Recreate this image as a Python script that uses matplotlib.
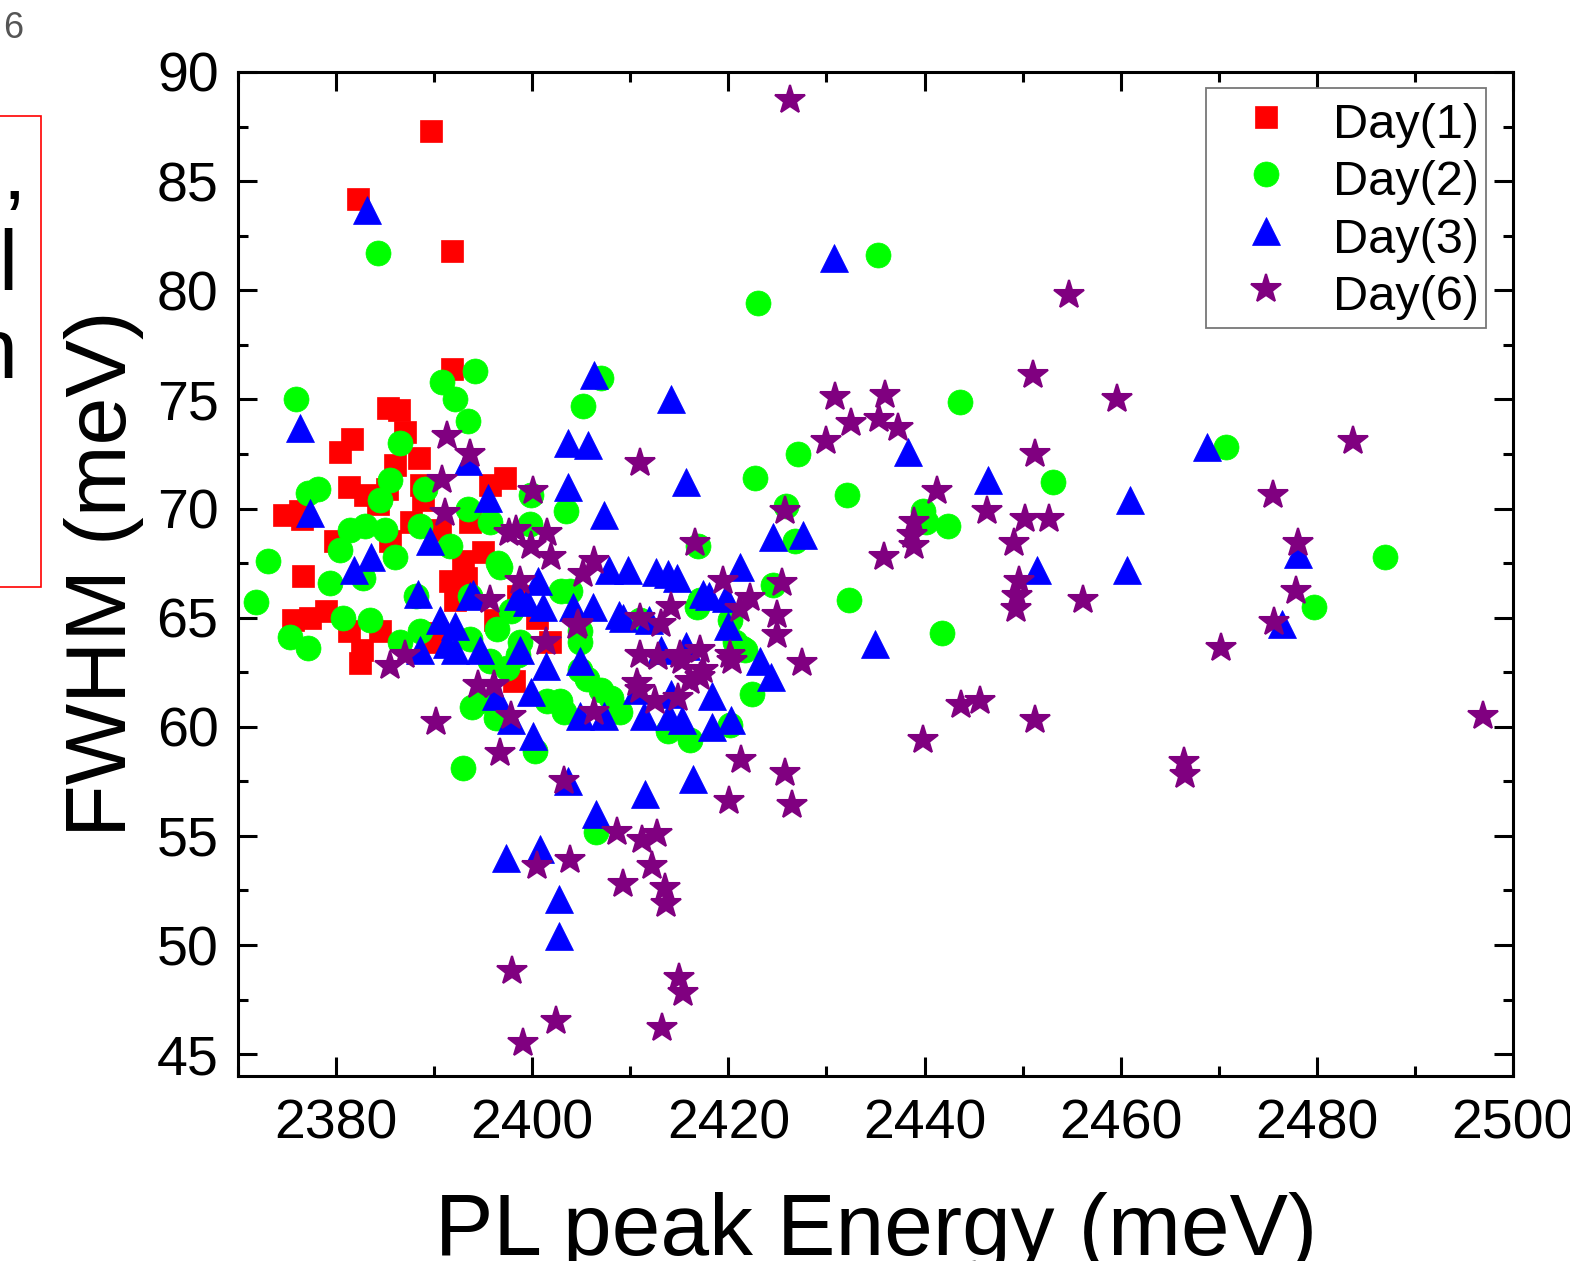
import matplotlib
matplotlib.use("Agg")
import matplotlib.pyplot as plt
from matplotlib.ticker import MultipleLocator
from matplotlib.patches import Rectangle

plt.rcParams['font.family'] = ['Liberation Sans', 'DejaVu Sans']

# (PL peak energy meV, FWHM meV)
day1 = [(2389.7, 87.3), (2382.2, 84.2), (2391.8, 81.8), (2391.8, 76.4), (2385.3, 74.6),
        (2386.4, 74.5), (2387.0, 73.5), (2381.6, 73.2), (2380.4, 72.6), (2388.5, 72.3),
        (2386.0, 72.0), (2381.3, 71.0), (2383.0, 70.6), (2385.2, 70.9), (2384.3, 70.2),
        (2388.7, 71.1), (2388.9, 70.4), (2397.2, 71.4), (2395.7, 71.1), (2374.7, 69.7),
        (2376.5, 69.5), (2376.3, 69.9), (2379.9, 68.5), (2385.5, 68.5), (2387.6, 69.4),
        (2390.6, 69.0), (2393.7, 69.4), (2376.6, 66.9), (2392.9, 67.6), (2393.2, 66.8),
        (2391.6, 66.7), (2392.1, 65.8), (2377.3, 65.0), (2375.6, 64.9), (2381.3, 64.4),
        (2382.6, 63.5), (2382.4, 62.9), (2384.5, 64.4), (2389.6, 63.9), (2390.3, 64.3),
        (2396.2, 64.9), (2398.1, 62.1), (2401.8, 63.9), (2379.0, 65.3), (2395.0, 68.0),
        (2398.5, 66.0), (2400.5, 65.0)]

day2 = [(2384.3, 81.7), (2423.0, 79.4), (2435.3, 81.6), (2375.9, 75.0), (2390.8, 75.8),
        (2394.2, 76.3), (2392.1, 75.0), (2393.4, 74.0), (2405.2, 74.7), (2407.0, 76.0),
        (2443.6, 74.9), (2427.1, 72.5), (2422.7, 71.4), (2432.1, 70.6), (2425.9, 70.1),
        (2453.1, 71.2), (2470.7, 72.8), (2439.8, 69.9), (2440.1, 69.4), (2442.4, 69.2),
        (2426.8, 68.5), (2373.1, 67.6), (2487.0, 67.8), (2479.7, 65.5), (2424.5, 66.5),
        (2432.3, 65.8), (2441.8, 64.3), (2422.4, 61.5), (2371.8, 65.7), (2375.3, 64.1),
        (2377.1, 63.6), (2378.2, 70.9), (2377.1, 70.7), (2380.4, 68.1), (2379.4, 66.6),
        (2380.7, 65.0), (2384.5, 70.4), (2385.5, 71.3), (2386.5, 73.0), (2389.1, 70.9),
        (2392.9, 58.1), (2400.3, 58.9), (2406.5, 55.2), (2403.4, 69.9), (2399.9, 70.6),
        (2393.7, 64.0), (2395.7, 63.0), (2394.7, 61.2), (2396.3, 60.4), (2401.5, 61.2),
        (2404.9, 62.6), (2407.0, 61.7), (2409.0, 60.7), (2413.8, 59.8), (2416.1, 59.4),
        (2417.1, 65.8), (2420.7, 63.9), (2421.7, 63.5), (2416.9, 68.3), (2411.0, 64.9),
        (2402.9, 66.2), (2393.7, 66.0), (2382.7, 66.8), (2386.0, 67.8), (2381.4, 69.0),
        (2383.0, 69.2), (2385.0, 69.0), (2388.6, 69.2), (2391.6, 68.3), (2395.7, 69.4),
        (2396.7, 67.3), (2388.1, 66.0), (2383.5, 64.9), (2388.6, 64.4), (2386.5, 63.9),
        (2397.8, 65.3), (2398.8, 63.9), (2402.8, 61.2), (2404.9, 63.9), (2416.8, 65.5),
        (2420.2, 64.9), (2421.4, 63.6), (2420.2, 60.1), (2396.5, 67.5), (2393.4, 70.0),
        (2399.8, 69.3), (2403.9, 66.2), (2396.4, 64.5), (2404.9, 64.4), (2393.9, 60.9),
        (2403.2, 60.7), (2405.6, 62.2), (2408.0, 61.3), (2398.5, 63.3), (2397.4, 62.7)]

day3 = [(2383.2, 83.7), (2430.8, 81.5), (2376.3, 73.7), (2406.3, 76.1), (2414.1, 75.0),
        (2393.5, 72.2), (2403.6, 73.0), (2405.7, 72.9), (2403.6, 71.0), (2415.7, 71.2),
        (2438.3, 72.6), (2446.5, 71.3), (2468.8, 72.8), (2460.9, 70.4), (2395.5, 70.5),
        (2377.3, 69.8), (2389.6, 68.5), (2407.3, 69.7), (2424.6, 68.7), (2427.6, 68.8),
        (2383.6, 67.8), (2381.8, 67.2), (2393.7, 66.0), (2407.8, 67.2), (2409.8, 67.2),
        (2412.6, 67.1), (2413.8, 67.0), (2414.8, 66.8), (2421.2, 67.3), (2451.5, 67.2),
        (2460.6, 67.2), (2478.1, 67.9), (2476.4, 64.7), (2434.9, 63.8), (2400.6, 66.7),
        (2398.6, 66.0), (2404.2, 65.5), (2406.2, 65.5), (2408.8, 65.1), (2411.9, 64.9),
        (2418.0, 66.0), (2419.8, 65.9), (2420.0, 64.6), (2390.6, 64.9), (2392.1, 64.6),
        (2388.6, 63.5), (2392.1, 63.5), (2394.7, 63.5), (2398.8, 63.5), (2401.4, 62.8),
        (2404.9, 63.0), (2413.1, 63.5), (2415.7, 63.7), (2423.2, 63.0), (2424.3, 62.3),
        (2396.3, 61.4), (2399.9, 61.6), (2404.9, 60.5), (2407.3, 60.5), (2411.4, 60.5),
        (2413.9, 60.5), (2415.3, 60.3), (2418.3, 60.0), (2420.3, 60.3), (2418.3, 61.4),
        (2397.8, 60.3), (2400.1, 59.6), (2403.6, 57.5), (2416.4, 57.6), (2411.5, 56.9),
        (2406.5, 56.0), (2397.3, 54.0), (2400.8, 54.4), (2402.7, 52.1), (2402.7, 50.4),
        (2388.4, 66.1), (2417.4, 66.1), (2394.0, 66.1), (2399.5, 65.7), (2401.1, 65.5),
        (2391.3, 63.8), (2409.3, 65.0), (2414.1, 61.5), (2410.7, 61.7)]

day6 = [(2426.3, 88.7), (2454.7, 79.8), (2430.9, 75.1), (2436.0, 75.2), (2432.5, 73.9),
        (2435.4, 74.1), (2437.3, 73.7), (2430.0, 73.1), (2451.1, 76.1), (2459.6, 75.0),
        (2483.7, 73.1), (2451.3, 72.5), (2411.0, 72.1), (2391.3, 73.3), (2393.7, 72.5),
        (2390.8, 71.3), (2441.3, 70.8), (2475.5, 70.6), (2400.1, 70.8), (2425.8, 69.9),
        (2446.4, 69.9), (2450.2, 69.5), (2452.7, 69.5), (2449.1, 68.4), (2438.9, 69.4),
        (2438.7, 68.8), (2438.9, 68.3), (2435.9, 67.8), (2416.6, 68.4), (2478.1, 68.4),
        (2406.3, 67.6), (2419.5, 66.7), (2425.5, 66.6), (2449.6, 66.7), (2449.4, 66.0),
        (2449.3, 65.4), (2456.2, 65.8), (2477.9, 66.2), (2475.6, 64.8), (2425.0, 65.1),
        (2425.0, 64.2), (2421.2, 65.4), (2470.2, 63.6), (2427.5, 62.9), (2496.9, 60.5),
        (2451.3, 60.3), (2443.7, 61.0), (2445.7, 61.2), (2439.8, 59.4), (2466.5, 58.4),
        (2466.6, 57.8), (2390.2, 60.2), (2385.5, 62.8), (2387.0, 63.3), (2396.7, 58.8),
        (2397.8, 60.5), (2394.5, 61.9), (2396.1, 61.9), (2421.3, 58.5), (2425.8, 57.9),
        (2426.5, 56.4), (2420.1, 56.6), (2403.2, 57.5), (2408.6, 55.2), (2403.9, 53.9),
        (2400.5, 53.6), (2409.3, 52.8), (2411.2, 54.8), (2412.7, 55.1), (2412.2, 53.6),
        (2413.5, 52.6), (2413.6, 51.9), (2397.9, 48.8), (2399.1, 45.5), (2402.4, 46.5),
        (2413.2, 46.2), (2415.0, 48.5), (2415.4, 47.8), (2411.0, 61.7), (2412.5, 61.2),
        (2411.0, 63.3), (2415.1, 63.3), (2417.1, 63.5), (2420.2, 63.3), (2417.1, 62.3),
        (2404.6, 64.6), (2406.3, 60.7), (2401.4, 63.9), (2398.8, 66.7), (2395.7, 65.8),
        (2399.9, 68.3), (2401.9, 67.8), (2398.3, 69.0), (2391.1, 69.8), (2397.6, 68.9),
        (2401.5, 68.9), (2405.2, 67.0), (2404.7, 64.7), (2411.0, 65.0), (2413.1, 64.7),
        (2414.1, 65.5), (2422.2, 65.9), (2412.8, 63.2), (2415.3, 63.0), (2420.4, 63.0),
        (2417.4, 62.6), (2416.1, 62.1), (2410.7, 62.0), (2414.9, 61.3)]

labels = ["Day(1)", "Day(2)", "Day(3)", "Day(6)"]
colors = ["#ff0000", "#00ff00", "#0000ff", "#800080"]
markers = ["s", "o", "^", "*"]
sizes = [16, 18, 20, 22]

fig = plt.figure(figsize=(15.7, 12.61), dpi=100)
ax = fig.add_axes([238/1570, 1 - 1076/1261, (1513-238)/1570, (1076-72)/1261])

for data, lab, c, m, ms in zip([day1, day2, day3, day6], labels, colors, markers, sizes):
    xs = [p[0] for p in data]
    ys = [p[1] for p in data]
    ew = 1.5 if m == "*" else 0.5
    ax.plot(xs, ys, linestyle="none", marker=m, ms=ms, color=c, mec=c, mew=ew, label=lab)

ax.set_xlim(2370, 2500)
ax.set_ylim(44, 90)
ax.xaxis.set_major_locator(MultipleLocator(20))
ax.xaxis.set_minor_locator(MultipleLocator(10))
ax.yaxis.set_major_locator(MultipleLocator(5))
ax.yaxis.set_minor_locator(MultipleLocator(2.5))
ax.tick_params(which="both", direction="in", top=True, right=True, width=2.2, labelsize=40)
ax.tick_params(which="major", length=14)
ax.tick_params(which="minor", length=7)
ax.tick_params(axis="x", pad=16)
ax.tick_params(axis="y", pad=14)
for s in ax.spines.values():
    s.set_linewidth(2.2)

leg = ax.legend(loc="upper right", bbox_to_anchor=(0.979, 0.984), borderaxespad=0,
                fontsize=35, handlelength=2.18, handleheight=1.3, handletextpad=0.29,
                labelspacing=0.09, fancybox=False, edgecolor="#777777", framealpha=1,
                borderpad=0.15)
leg.get_frame().set_linewidth(1.3)

fig.text(876/1570, 1 - 1255/1261, "PL peak Energy (meV)", fontsize=63, ha="center", va="baseline")
fig.text(104/1570, 1 - 574/1261, "FWHM (meV)", fontsize=62, rotation=90, ha="center", va="center")

# leftovers of the slide the chart was cut from
fig.text(23/1570, 1 - 38/1261, "6", fontsize=26, color="#555555", ha="right", va="baseline")
fig.patches.append(Rectangle((-5/1570, 1 - 587/1261), 46/1570, 471/1261, transform=fig.transFigure,
                             fill=False, edgecolor="#ff0000", linewidth=1.2))
fig.text(24/1570, 1 - 250/1261, "’", fontsize=62, ha="right", va="baseline")
fig.text(17/1570, 1 - 290/1261, "l", fontsize=62, ha="right", va="baseline")
fig.text(17/1570, 1 - 378/1261, "n", fontsize=62, ha="right", va="baseline")

fig.savefig("out.png", dpi=100)
